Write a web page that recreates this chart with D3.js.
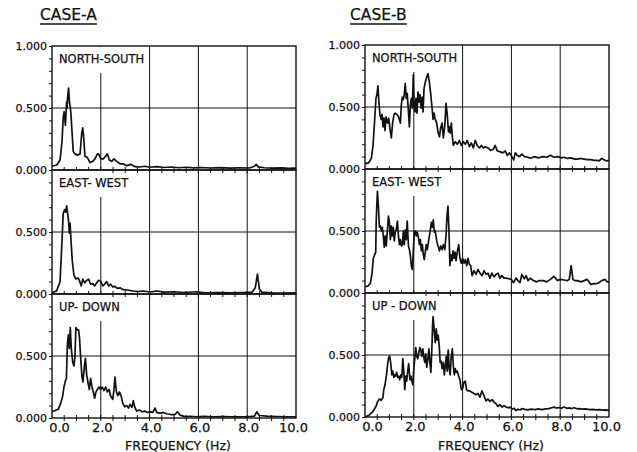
<!DOCTYPE html>
<html>
<head>
<meta charset="utf-8">
<script src="https://cdn.jsdelivr.net/npm/d3@7"></script>
<style>
  body { margin: 0; background: #fff; }
  text { font-family: "DejaVu Sans", sans-serif; fill: #111; stroke: #111; stroke-width: 0.25px; }
</style>
</head>
<body>
<svg id="chart" width="637" height="452"></svg>
<script>
// spectra, [frequency Hz, amplitude]
var caseA_NS = [[0,0.03],[0.19,0.04],[0.33,0.08],[0.41,0.23],[0.46,0.42],[0.5,0.47],[0.53,0.4],[0.55,0.36],[0.6,0.55],[0.62,0.5],[0.64,0.59],[0.68,0.66],[0.71,0.56],[0.77,0.47],[0.82,0.31],[0.87,0.15],[0.94,0.13],[1.04,0.12],[1.15,0.13],[1.22,0.3],[1.26,0.34],[1.3,0.26],[1.35,0.11],[1.45,0.1],[1.56,0.06],[1.67,0.07],[1.76,0.09],[1.86,0.13],[1.91,0.13],[2.0,0.09],[2.1,0.09],[2.19,0.11],[2.27,0.13],[2.35,0.08],[2.45,0.07],[2.54,0.09],[2.65,0.07],[2.79,0.05],[2.92,0.05],[3.06,0.035],[3.24,0.045],[3.4,0.027],[3.6,0.024],[3.81,0.03],[4.0,0.022],[4.3,0.027],[4.6,0.02],[4.9,0.024],[5.2,0.018],[5.5,0.022],[5.8,0.017],[6.1,0.02],[6.5,0.016],[6.9,0.019],[7.3,0.015],[7.7,0.018],[8.1,0.016],[8.3,0.03],[8.37,0.045],[8.45,0.025],[8.7,0.018],[9.0,0.015],[9.4,0.017],[9.7,0.013],[10,0.015]];
var caseA_EW = [[0,0.01],[0.19,0.025],[0.33,0.1],[0.41,0.43],[0.46,0.65],[0.52,0.68],[0.56,0.66],[0.6,0.71],[0.64,0.65],[0.68,0.59],[0.71,0.49],[0.74,0.57],[0.78,0.43],[0.83,0.27],[0.9,0.15],[0.98,0.12],[1.07,0.13],[1.12,0.11],[1.2,0.065],[1.26,0.12],[1.34,0.09],[1.42,0.11],[1.5,0.12],[1.58,0.08],[1.67,0.084],[1.75,0.065],[1.83,0.09],[1.91,0.11],[2.0,0.1],[2.08,0.065],[2.16,0.08],[2.24,0.1],[2.32,0.065],[2.4,0.08],[2.49,0.057],[2.58,0.062],[2.68,0.046],[2.79,0.05],[2.92,0.035],[3.13,0.03],[3.33,0.024],[3.54,0.02],[3.74,0.024],[4.02,0.016],[4.29,0.024],[4.6,0.015],[5.0,0.018],[5.4,0.012],[5.93,0.018],[6.3,0.01],[6.8,0.012],[7.3,0.01],[7.8,0.012],[8.2,0.015],[8.33,0.05],[8.42,0.16],[8.5,0.04],[8.6,0.015],[9.0,0.01],[9.5,0.008],[10,0.01]];
var caseA_UD = [[0,0.05],[0.26,0.07],[0.36,0.12],[0.44,0.18],[0.49,0.25],[0.55,0.3],[0.59,0.32],[0.63,0.59],[0.67,0.67],[0.71,0.56],[0.75,0.73],[0.79,0.56],[0.85,0.45],[0.9,0.42],[0.94,0.49],[0.98,0.73],[1.04,0.71],[1.09,0.71],[1.13,0.64],[1.17,0.5],[1.23,0.33],[1.27,0.29],[1.33,0.42],[1.37,0.48],[1.42,0.35],[1.48,0.28],[1.53,0.23],[1.58,0.32],[1.64,0.25],[1.69,0.21],[1.75,0.16],[1.8,0.21],[1.86,0.23],[1.93,0.25],[1.99,0.23],[2.06,0.25],[2.13,0.22],[2.2,0.25],[2.27,0.21],[2.34,0.23],[2.4,0.18],[2.49,0.15],[2.54,0.23],[2.58,0.33],[2.64,0.21],[2.7,0.18],[2.76,0.21],[2.83,0.18],[2.9,0.12],[2.98,0.09],[3.06,0.1],[3.13,0.08],[3.2,0.11],[3.28,0.085],[3.33,0.14],[3.39,0.09],[3.47,0.056],[3.58,0.065],[3.69,0.05],[3.8,0.056],[3.91,0.045],[4.02,0.05],[4.13,0.045],[4.22,0.08],[4.29,0.045],[4.43,0.037],[4.56,0.045],[4.7,0.034],[4.86,0.028],[5.04,0.028],[5.14,0.05],[5.25,0.023],[5.45,0.011],[5.66,0.014],[5.93,0.01],[6.2,0.014],[6.6,0.01],[7.0,0.012],[7.5,0.009],[8.0,0.01],[8.3,0.015],[8.39,0.05],[8.5,0.02],[8.8,0.015],[9.2,0.012],[9.6,0.01],[10,0.01]];

var caseB_NS = [[0,0.043],[0.15,0.05],[0.26,0.086],[0.33,0.19],[0.4,0.41],[0.45,0.57],[0.49,0.6],[0.53,0.67],[0.57,0.54],[0.61,0.44],[0.66,0.4],[0.7,0.44],[0.74,0.34],[0.78,0.41],[0.82,0.31],[0.86,0.42],[0.92,0.37],[0.97,0.41],[1.02,0.33],[1.08,0.25],[1.13,0.37],[1.19,0.44],[1.24,0.45],[1.31,0.44],[1.38,0.42],[1.45,0.37],[1.49,0.52],[1.53,0.58],[1.57,0.56],[1.61,0.6],[1.65,0.69],[1.69,0.57],[1.73,0.61],[1.78,0.46],[1.82,0.34],[1.86,0.52],[1.9,0.57],[1.94,0.49],[1.98,0.76],[2.01,0.52],[2.05,0.46],[2.09,0.57],[2.13,0.45],[2.17,0.62],[2.21,0.54],[2.25,0.6],[2.3,0.49],[2.34,0.58],[2.38,0.46],[2.42,0.65],[2.47,0.7],[2.53,0.74],[2.58,0.77],[2.64,0.7],[2.69,0.61],[2.75,0.49],[2.79,0.4],[2.83,0.45],[2.88,0.4],[2.94,0.37],[2.99,0.3],[3.05,0.26],[3.1,0.33],[3.16,0.37],[3.21,0.25],[3.27,0.35],[3.32,0.53],[3.37,0.44],[3.42,0.3],[3.46,0.34],[3.5,0.29],[3.54,0.37],[3.58,0.26],[3.62,0.19],[3.7,0.22],[3.78,0.2],[3.87,0.23],[3.95,0.19],[4.03,0.22],[4.11,0.2],[4.19,0.23],[4.28,0.18],[4.36,0.21],[4.44,0.17],[4.52,0.23],[4.6,0.19],[4.69,0.17],[4.77,0.19],[4.85,0.17],[4.93,0.18],[5.04,0.17],[5.15,0.15],[5.26,0.16],[5.34,0.19],[5.42,0.145],[5.53,0.14],[5.64,0.13],[5.75,0.145],[5.83,0.11],[5.92,0.13],[6.02,0.1],[6.09,0.073],[6.16,0.13],[6.24,0.11],[6.33,0.1],[6.43,0.12],[6.54,0.1],[6.65,0.097],[6.78,0.086],[6.95,0.1],[7.1,0.09],[7.3,0.1],[7.45,0.095],[7.6,0.11],[7.75,0.095],[7.89,0.1],[8.05,0.09],[8.16,0.095],[8.3,0.085],[8.44,0.09],[8.6,0.08],[8.7,0.08],[8.85,0.085],[8.98,0.08],[9.1,0.075],[9.25,0.075],[9.4,0.07],[9.5,0.07],[9.6,0.065],[9.7,0.085],[9.8,0.075],[9.9,0.065],[10,0.07]];
var caseB_EW = [[0,0.05],[0.12,0.056],[0.22,0.078],[0.29,0.16],[0.34,0.28],[0.4,0.31],[0.44,0.33],[0.46,0.59],[0.51,0.82],[0.55,0.7],[0.59,0.53],[0.63,0.54],[0.67,0.5],[0.71,0.53],[0.75,0.46],[0.79,0.37],[0.83,0.46],[0.87,0.38],[0.92,0.51],[0.96,0.62],[1.0,0.57],[1.04,0.43],[1.08,0.54],[1.12,0.46],[1.16,0.53],[1.2,0.42],[1.24,0.49],[1.28,0.51],[1.33,0.58],[1.37,0.46],[1.41,0.39],[1.45,0.43],[1.49,0.38],[1.53,0.39],[1.57,0.5],[1.61,0.39],[1.65,0.51],[1.69,0.43],[1.73,0.58],[1.78,0.38],[1.82,0.35],[1.86,0.3],[1.9,0.22],[1.94,0.19],[1.98,0.34],[2.02,0.49],[2.06,0.5],[2.1,0.46],[2.14,0.49],[2.19,0.45],[2.23,0.39],[2.27,0.43],[2.31,0.34],[2.35,0.39],[2.39,0.31],[2.43,0.27],[2.47,0.33],[2.51,0.39],[2.55,0.35],[2.6,0.41],[2.64,0.46],[2.68,0.51],[2.72,0.57],[2.76,0.53],[2.8,0.59],[2.84,0.49],[2.88,0.5],[2.94,0.42],[2.99,0.38],[3.05,0.34],[3.1,0.38],[3.16,0.35],[3.21,0.39],[3.27,0.35],[3.32,0.46],[3.36,0.62],[3.4,0.7],[3.44,0.51],[3.48,0.22],[3.52,0.31],[3.57,0.26],[3.61,0.34],[3.65,0.28],[3.69,0.33],[3.73,0.26],[3.78,0.33],[3.84,0.39],[3.89,0.28],[3.95,0.24],[4.0,0.28],[4.06,0.24],[4.11,0.27],[4.17,0.22],[4.22,0.28],[4.28,0.23],[4.33,0.22],[4.39,0.14],[4.47,0.18],[4.55,0.15],[4.63,0.19],[4.71,0.16],[4.8,0.14],[4.88,0.18],[4.96,0.15],[5.04,0.16],[5.12,0.12],[5.2,0.16],[5.29,0.13],[5.37,0.15],[5.45,0.16],[5.53,0.12],[5.61,0.14],[5.7,0.12],[5.78,0.12],[5.89,0.115],[6.0,0.11],[6.09,0.083],[6.19,0.12],[6.27,0.1],[6.35,0.083],[6.43,0.15],[6.52,0.115],[6.6,0.14],[6.68,0.1],[6.78,0.12],[6.9,0.1],[7.04,0.09],[7.15,0.1],[7.3,0.1],[7.45,0.09],[7.6,0.11],[7.74,0.135],[7.89,0.1],[8.0,0.11],[8.16,0.105],[8.3,0.1],[8.37,0.11],[8.45,0.22],[8.52,0.11],[8.6,0.1],[8.7,0.1],[8.85,0.09],[8.98,0.1],[9.1,0.11],[9.25,0.07],[9.4,0.075],[9.5,0.075],[9.6,0.085],[9.7,0.1],[9.84,0.11],[9.92,0.09],[10,0.09]];
var caseB_UD = [[0,0],[0.18,0.016],[0.32,0.044],[0.45,0.085],[0.52,0.126],[0.59,0.145],[0.66,0.134],[0.73,0.153],[0.77,0.22],[0.82,0.26],[0.88,0.34],[0.93,0.43],[0.97,0.48],[1.01,0.49],[1.05,0.44],[1.1,0.34],[1.14,0.37],[1.18,0.32],[1.22,0.34],[1.26,0.33],[1.3,0.36],[1.34,0.32],[1.38,0.33],[1.42,0.3],[1.47,0.34],[1.51,0.32],[1.55,0.47],[1.59,0.37],[1.63,0.22],[1.67,0.33],[1.71,0.29],[1.75,0.37],[1.79,0.43],[1.84,0.3],[1.88,0.33],[1.92,0.29],[1.96,0.26],[2.0,0.39],[2.04,0.47],[2.08,0.56],[2.12,0.49],[2.16,0.47],[2.21,0.52],[2.25,0.56],[2.29,0.54],[2.33,0.49],[2.37,0.55],[2.41,0.48],[2.45,0.44],[2.49,0.51],[2.53,0.4],[2.58,0.47],[2.62,0.55],[2.66,0.44],[2.7,0.36],[2.74,0.55],[2.77,0.74],[2.79,0.81],[2.84,0.69],[2.88,0.6],[2.92,0.71],[2.96,0.62],[3.0,0.66],[3.04,0.58],[3.08,0.44],[3.12,0.45],[3.16,0.39],[3.21,0.44],[3.25,0.34],[3.29,0.41],[3.33,0.49],[3.37,0.37],[3.41,0.54],[3.45,0.39],[3.49,0.34],[3.53,0.48],[3.58,0.55],[3.62,0.41],[3.66,0.34],[3.7,0.39],[3.74,0.36],[3.78,0.37],[3.84,0.33],[3.89,0.3],[3.95,0.22],[4.0,0.23],[4.05,0.28],[4.11,0.29],[4.16,0.22],[4.22,0.21],[4.3,0.21],[4.38,0.2],[4.47,0.19],[4.55,0.18],[4.63,0.19],[4.71,0.16],[4.79,0.21],[4.88,0.17],[4.96,0.13],[5.04,0.145],[5.12,0.126],[5.21,0.14],[5.29,0.12],[5.37,0.107],[5.45,0.085],[5.53,0.1],[5.62,0.08],[5.7,0.09],[5.78,0.08],[5.86,0.074],[5.95,0.08],[6.03,0.063],[6.11,0.07],[6.19,0.052],[6.27,0.063],[6.36,0.057],[6.44,0.068],[6.55,0.062],[6.68,0.058],[6.8,0.063],[6.98,0.06],[7.1,0.065],[7.25,0.06],[7.4,0.066],[7.53,0.068],[7.65,0.075],[7.74,0.08],[7.85,0.072],[7.95,0.077],[8.05,0.07],[8.16,0.08],[8.27,0.07],[8.37,0.074],[8.47,0.068],[8.57,0.075],[8.7,0.066],[8.78,0.068],[8.9,0.063],[9.05,0.065],[9.2,0.06],[9.33,0.062],[9.47,0.058],[9.6,0.06],[9.75,0.055],[9.88,0.057],[10,0.052]];

var labelsA = ["NORTH-SOUTH", "EAST- WEST", "UP- DOWN"];
var labelsB = ["NORTH-SOUTH", "EAST- WEST", "UP - DOWN"];
var xTicks = [0, 2, 4, 6, 8, 10];
var xGrid = [2, 4, 6, 8];
var xMinor = d3.range(21).map(function(i) { return i / 2; });
var yMinor = d3.range(11).map(function(i) { return i / 10; });

var svg = d3.select("#chart");
var panelH = 124;
var ink = "#111";

var charts = [
  { title: "CASE-A", titleX: 40, left: 52, right: 296, top: 46,
    series: [caseA_NS, caseA_EW, caseA_UD], labels: labelsA },
  { title: "CASE-B", titleX: 350, left: 365, right: 609, top: 45,
    series: [caseB_NS, caseB_EW, caseB_UD], labels: labelsB }
];

charts.forEach(function(c) {
  var g = svg.append("g");
  var x = d3.scaleLinear().domain([0, 10]).range([c.left, c.right]);

  var t = g.append("text").attr("x", c.titleX).attr("y", 20)
    .style("font-size", "15.5px").text(c.title);
  var tw = t.node().getComputedTextLength();
  g.append("line").attr("x1", c.titleX).attr("x2", c.titleX + tw)
    .attr("y1", 24).attr("y2", 24).attr("stroke", ink).attr("stroke-width", 1.4);

  c.series.forEach(function(s, i) {
    var top = c.top + i * panelH;
    var y = d3.scaleLinear().domain([0, 1]).range([top + panelH, top]);
    var p = g.append("g");

    // grid
    p.selectAll(".vg").data(xGrid).enter().append("line")
      .attr("x1", x).attr("x2", x).attr("y1", top).attr("y2", top + panelH)
      .attr("stroke", ink).attr("stroke-width", 1);
    p.append("line").attr("x1", c.left).attr("x2", c.right)
      .attr("y1", y(0.5)).attr("y2", y(0.5)).attr("stroke", ink).attr("stroke-width", 1);

    // label box hides the top of the grid
    p.append("rect").attr("x", c.left + 1).attr("y", top + 1)
      .attr("width", x(2) - c.left + 5).attr("height", 26).attr("fill", "#fff");
    p.append("text").attr("x", c.left + 7).attr("y", top + 17)
      .style("font-size", "11.5px").text(c.labels[i]);

    var line = d3.line()
      .x(function(d) { return x(d[0]); })
      .y(function(d) { return y(d[1]); });
    p.append("path").datum(s).attr("d", line)
      .attr("fill", "none").attr("stroke", ink).attr("stroke-width", 1.7)
      .attr("stroke-linejoin", "round");

    p.append("rect").attr("x", c.left).attr("y", top)
      .attr("width", c.right - c.left).attr("height", panelH)
      .attr("fill", "none").attr("stroke", ink).attr("stroke-width", 1.4);

    // bottom ticks every 0.5 Hz
    p.selectAll(".bt").data(xMinor.slice(1, -1)).enter().append("line")
      .attr("x1", x).attr("x2", x)
      .attr("y1", top + panelH - 3).attr("y2", top + panelH + 3)
      .attr("stroke", ink).attr("stroke-width", 1);

    var shown = i === 0 ? [0, 0.5, 1] : [0, 0.5];
    var ax = d3.axisLeft(y).tickValues(yMinor).tickSize(3).tickPadding(2)
      .tickFormat(function(d) { return shown.indexOf(d) >= 0 ? d3.format(".3f")(d) : ""; });
    var ag = p.append("g").attr("transform", "translate(" + c.left + ",0)").call(ax);
    ag.select(".domain").remove();
    ag.selectAll("line").attr("stroke", ink);
    ag.selectAll("text").style("font-size", "11px").style("font-family", "DejaVu Sans").attr("fill", ink);

    if (i === 2) {
      var bx = d3.axisBottom(x).tickValues(xTicks).tickSize(0).tickPadding(4.5)
        .tickFormat(d3.format(".1f"));
      var bg = p.append("g").attr("transform", "translate(0," + (top + panelH) + ")").call(bx);
      bg.select(".domain").remove();
      bg.selectAll("text").style("font-size", "13px").style("font-family", "DejaVu Sans")
        .attr("fill", ink)
        .attr("dx", function(d) { return d === 0 ? 7 : (d === 10 ? -3 : 1); });
      p.append("text").attr("x", (c.left + c.right) / 2 + 4).attr("y", 450)
        .attr("text-anchor", "middle").style("font-size", "12.5px").text("FREQUENCY (Hz)");
    }
  });
});
</script>
</body>
</html>
